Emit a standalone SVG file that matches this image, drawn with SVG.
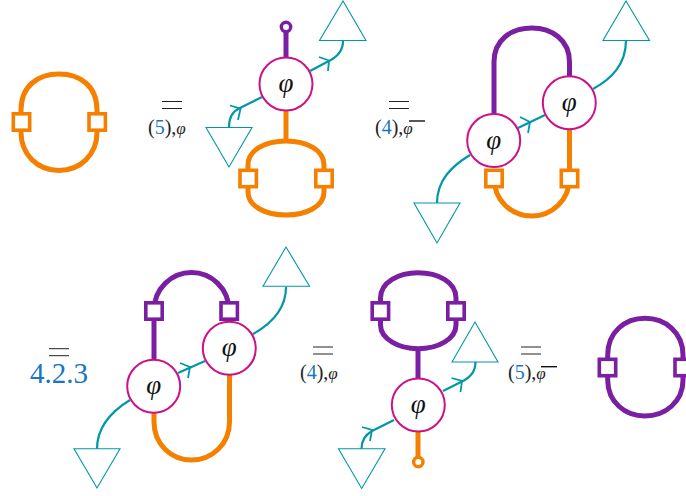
<svg xmlns="http://www.w3.org/2000/svg" width="686" height="496" viewBox="0 0 686 496">
<style>
text{font-family:"Liberation Serif",serif;fill:#222}
.o{fill:none;stroke:#f58000;stroke-width:5}
.p{fill:none;stroke:#7b1fa2;stroke-width:5}
.t{fill:none;stroke:#0097a7;stroke-width:2.2}
.a{fill:none;stroke:#0097a7;stroke-width:1.8}
.tri{fill:#fff;stroke:#0097a7;stroke-width:1.1}
.c{fill:#fff;stroke:#cc1187;stroke-width:2}
.so{fill:#fff;stroke:#f58000;stroke-width:3.6}
.sp{fill:#fff;stroke:#7b1fa2;stroke-width:3.6}
.phi{font-size:27px;font-style:italic;text-anchor:middle;fill:#111}
.eq{stroke:#222;stroke-width:1;fill:none}
.lab{font-size:20px}
.b{fill:#1976c0}
.sm{font-size:17px;font-style:italic}
.bar{stroke:#111;stroke-width:1.4}
</style>
<g id="connectors">
<path class="o" d="M21 122V110C21 86 38 74 59 74C80 74 97 86 97 110V132C97 155 80 170.5 59 170.5C38 170.5 21 155 21 132Z"/>
<path class="p" d="M286 32V57"/>
<path class="o" d="M286 111V141"/>
<path class="o" d="M248 178V165C248 150 265 141 286 141C307 141 324 150 324 165V192C324 206 307 215 286 215C265 215 248 206 248 192Z"/>
<path class="t" d="M310 71L327 62C336 58 343 51 343 41"/>
<path class="a" d="M319 57L329 60.500L328 71"/>
<path class="t" d="M229 127C229 117 233 111 240 108L262 97"/>
<path class="a" d="M230 105.500L240.500 108.700L238 120"/>
<path class="p" d="M494 114V62C494 40 511 28 531.700 28C552 28 569.500 40 569.500 62V77"/>
<path class="o" d="M569.500 128V178"/>
<path class="o" d="M494 178C494 200 511 216 531.700 216C552 216 569.500 200 569.500 178"/>
<path class="t" d="M437 203C437 180 452 166 470 155"/>
<path class="t" d="M518 128L545 115"/>
<path class="a" d="M520 117L530 122L528 133"/>
<path class="t" d="M593 89C611 79 626 65 626 40"/>
<path class="p" d="M154 311C154 288 172 272.500 191.500 272.500C211 272.500 229 288 229 311"/>
<path class="p" d="M154 311V360"/>
<path class="o" d="M229.500 375V422C229.500 444 212 460 191.500 460C171 460 154 444 154 422V412"/>
<path class="t" d="M97 449C97 426 112 411 130 400"/>
<path class="t" d="M178 373L205 361"/>
<path class="a" d="M180 363L190 367L188 378"/>
<path class="t" d="M253 334C271 324 286 310 286 287"/>
<path class="p" d="M380.500 311V298C380.500 282 399 272.700 418 272.700C438 272.700 456 282 456 298V325C456 339 438 348.700 418 348.700C399 348.700 380.500 339 380.500 325Z"/>
<path class="p" d="M418 349V379"/>
<path class="o" d="M418 431V457"/>
<path class="t" d="M443 391L461 382C470 378 475.500 372 475.500 362"/>
<path class="a" d="M451.500 378L462 381L460.500 392"/>
<path class="t" d="M394 420L372 431C365 435 361.500 440 361.500 449"/>
<path class="a" d="M362 427L372 430L370 441"/>
<path class="p" d="M607.700 367V355C607.700 332 625 318.300 645 318.300C665 318.300 683 332 683 355V380C683 402 665 416 645 416C625 416 607.700 402 607.700 380Z"/>
</g>
<g id="sq1a"><rect class="so" x="13.300" y="113.800" width="16.400" height="16.400"/></g>
<g id="sq1b"><rect class="so" x="89" y="113.800" width="16.400" height="16.400"/></g>
<g id="eq1"><path class="eq" d="M162 101.500H182M162 108.500H182"/><text class="lab" x="148" y="134">(<tspan class="b">5</tspan>),<tspan class="sm">φ</tspan></text></g>
<g id="lolli1"><circle cx="286" cy="27" r="4.700" fill="#fff" stroke="#7b1fa2" stroke-width="3.400"/></g>
<g id="phi1"><circle class="c" cx="286" cy="84" r="26.500"/><text class="phi" x="286" y="92">φ</text></g>
<g id="tri1a"><path class="tri" d="M319.500 40.500H366L343 1Z"/></g>
<g id="tri1b"><path class="tri" d="M206 127.500H252L229 167Z"/></g>
<g id="sq2a"><rect class="so" x="240" y="170.300" width="16.400" height="16.400"/></g>
<g id="sq2b"><rect class="so" x="315.800" y="170.300" width="16.400" height="16.400"/></g>
<g id="eq2"><path class="eq" d="M389 101.500H409M389 108.500H409"/><text class="lab" x="375" y="134">(<tspan class="b">4</tspan>),<tspan class="sm">φ</tspan></text><path class="bar" d="M409 121H425"/></g>
<g id="sq3a"><rect class="so" x="485.800" y="170.300" width="16.400" height="16.400"/></g>
<g id="sq3b"><rect class="so" x="561.300" y="170.300" width="16.400" height="16.400"/></g>
<g id="phi2"><circle class="c" cx="493.700" cy="140.500" r="26.500"/><text class="phi" x="493.700" y="148.500">φ</text></g>
<g id="phi3"><circle class="c" cx="569.300" cy="102.700" r="26.500"/><text class="phi" x="569.300" y="110.700">φ</text></g>
<g id="tri2a"><path class="tri" d="M603 40.500H649.500L626 1Z"/></g>
<g id="tri2b"><path class="tri" d="M414 203H460L437 243Z"/></g>
<g id="eq3"><path class="eq" d="M49 348.700H69M49 355.700H69"/><text x="30" y="383" font-size="29" class="b">4.2.3</text></g>
<g id="sq4a"><rect class="sp" x="145.800" y="302.800" width="16.400" height="16.400"/></g>
<g id="sq4b"><rect class="sp" x="221" y="302.800" width="16.400" height="16.400"/></g>
<g id="phi4"><circle class="c" cx="153.700" cy="386.300" r="26.500"/><text class="phi" x="153.700" y="394.300">φ</text></g>
<g id="phi5"><circle class="c" cx="229.300" cy="348.300" r="26.500"/><text class="phi" x="229.300" y="356.300">φ</text></g>
<g id="tri3a"><path class="tri" d="M263 286.300H309.500L286 247Z"/></g>
<g id="tri3b"><path class="tri" d="M74 448.700H120L97 488Z"/></g>
<g id="eq4"><path class="eq" d="M313 347H333M313 354H333"/><text class="lab" x="300" y="379">(<tspan class="b">4</tspan>),<tspan class="sm">φ</tspan></text></g>
<g id="sq5a"><rect class="sp" x="372.200" y="302.800" width="16.400" height="16.400"/></g>
<g id="sq5b"><rect class="sp" x="447.800" y="302.800" width="16.400" height="16.400"/></g>
<g id="phi6"><circle class="c" cx="418.300" cy="405" r="26.500"/><text class="phi" x="418.300" y="413">φ</text></g>
<g id="tri4a"><path class="tri" d="M452 362H498L475 322Z"/></g>
<g id="tri4b"><path class="tri" d="M338.500 448.700H385L361.700 488.500Z"/></g>
<g id="lolli2"><circle cx="418.300" cy="462" r="4.700" fill="#fff" stroke="#f58000" stroke-width="3.400"/></g>
<g id="eq5"><path class="eq" d="M521 347H541M521 354H541"/><text class="lab" x="508" y="379">(<tspan class="b">5</tspan>),<tspan class="sm">φ</tspan></text><path class="bar" d="M541 366.700H557"/></g>
<g id="sq6a"><rect class="sp" x="599.300" y="359.300" width="16.400" height="16.400"/></g>
<g id="sq6b"><rect class="sp" x="675" y="359.300" width="16.400" height="16.400"/></g>
</svg>
